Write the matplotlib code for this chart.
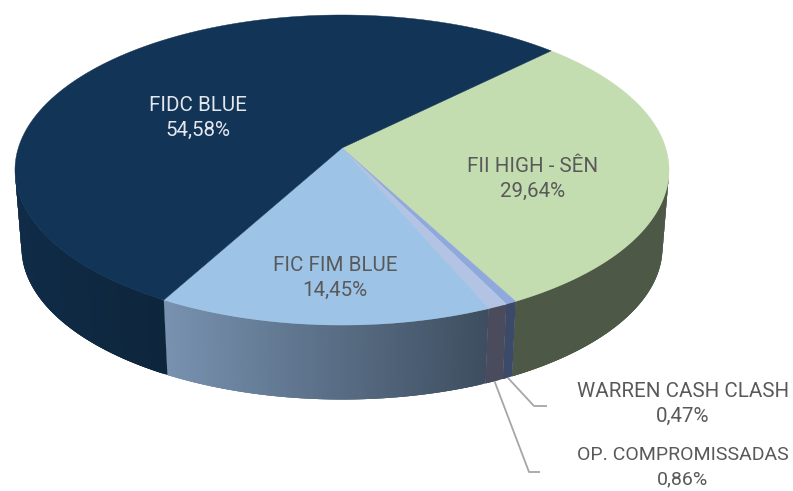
"""
3D pie of portfolio allocation, drawn by hand since matplotlib has no 3D pie.
"""
import numpy as np
import matplotlib
matplotlib.use("Agg")
import matplotlib.pyplot as plt
from matplotlib.collections import PolyCollection
from matplotlib.colors import to_rgb
from matplotlib.patches import Polygon

# clockwise order, starting at the green slice
NAMES = ["FII HIGH - SÊN", "WARREN CASH CLASH", "OP. COMPROMISSADAS",
         "FIC FIM BLUE", "FIDC BLUE"]
SHARES = [29.64, 0.47, 0.86, 14.45, 54.58]

TOP_COLORS = ["#c3dcb0", "#8fa9dc", "#b2c3e4", "#9dc3e6", "#123456"]
# side colours, left end -> right end of the visible part
SIDE_COLORS = [("#4d5847", "#4d5847"), ("#3a4a68", "#3a4a68"), ("#4b4b5e", "#4b4b5e"),
               ("#7892b0", "#3e4e60"), ("#0f2b47", "#0e263c")]
TEXT_COLORS = ["#595959", "#595959", "#595959", "#595959", "#e4e8ee"]
FONT_SIZES = [14.8, 14.8, 14.0, 14.8, 14.8]
LINE_SPACING = [1.38, 1.38, 1.5, 1.38, 1.38]
LABEL_POS = [(533, 179), (683, 404), (683, 467), (335, 278), (198, 118)]
LEADER_ELBOWS = [None, [(534, 406), (547, 406)], [(529, 472), (540, 472)], None, None]

# projection of the pie, in pixels
APEX_X, APEX_Y = 342, 148
RX, RY, PERSP = 323.7, 151.9, 0.142
DEPTH, BOTTOM_SCALE = 78, 0.98
START_ANGLE = 45.3  # clockwise from 12 o'clock
WIDEST_Y = 170  # rim is widest here, only what is below it shows a side


def rim(theta_deg, bottom=False):
    """Screen position of a rim point for a math angle in degrees."""
    t = np.radians(theta_deg)
    w = 1 + PERSP * np.sin(t)
    dx = RX * np.cos(t) / w
    dy = RY * np.sin(t) / w
    if bottom:
        return APEX_X + BOTTOM_SCALE * dx, APEX_Y - BOTTOM_SCALE * dy + DEPTH
    return APEX_X + dx, APEX_Y - dy


fig = plt.figure(figsize=(7.93, 4.91), dpi=100, facecolor="white")
ax = fig.add_axes([0, 0, 1, 1])
ax.set_xlim(0, 793)
ax.set_ylim(491, 0)
ax.axis("off")

edges = 90 - START_ANGLE - np.cumsum([0] + SHARES) * 3.6

# sides first, the top faces go over them
for i, (a0, a1) in enumerate(zip(edges[:-1], edges[1:])):
    thetas = np.linspace(a0, a1, max(int(abs(a1 - a0) * 2), 4))
    thetas = thetas[rim(thetas)[1] >= WIDEST_Y]
    if len(thetas) < 2:
        continue
    x0, y0 = rim(thetas)
    x1, y1 = rim(thetas, bottom=True)
    xmin, xmax = x0.min(), x0.max()
    left, right = np.array(to_rgb(SIDE_COLORS[i][0])), np.array(to_rgb(SIDE_COLORS[i][1]))
    quads, cols = [], []
    for j in range(len(thetas) - 1):
        # each strip runs under the next one so no seams show
        k = min(j + 3, len(thetas) - 1)
        quads.append([(x0[j], y0[j]), (x0[k], y0[k]), (x1[k], y1[k]), (x1[j], y1[j])])
        f = (x0[j] - xmin) / max(xmax - xmin, 1)
        cols.append(left + (right - left) * f)
    ax.add_collection(PolyCollection(quads, facecolors=cols, edgecolors="none", linewidths=0))

for i, (a0, a1) in enumerate(zip(edges[:-1], edges[1:])):
    thetas = np.linspace(a0, a1, max(int(abs(a1 - a0) * 2), 4))
    x0, y0 = rim(thetas)
    pts = [(APEX_X, APEX_Y)] + list(zip(x0, y0))
    ax.add_patch(Polygon(pts, closed=True, facecolor=TOP_COLORS[i],
                         edgecolor=TOP_COLORS[i], linewidth=0.3))

for i, name in enumerate(NAMES):
    pct = f"{SHARES[i]:.2f}".replace(".", ",") + "%"
    ax.text(LABEL_POS[i][0], LABEL_POS[i][1], f"{name}\n{pct}", ha="center", va="center",
            color=TEXT_COLORS[i], family="Roboto", fontsize=FONT_SIZES[i],
            linespacing=LINE_SPACING[i])
    if LEADER_ELBOWS[i]:
        mid = (edges[i] + edges[i + 1]) / 2
        sx, sy = rim(mid, bottom=True)
        xs = [sx] + [p[0] for p in LEADER_ELBOWS[i]]
        ys = [sy] + [p[1] for p in LEADER_ELBOWS[i]]
        ax.plot(xs, ys, color="#a6a6a6", lw=1.3, solid_capstyle="butt")

fig.savefig("out.png", dpi=100)
